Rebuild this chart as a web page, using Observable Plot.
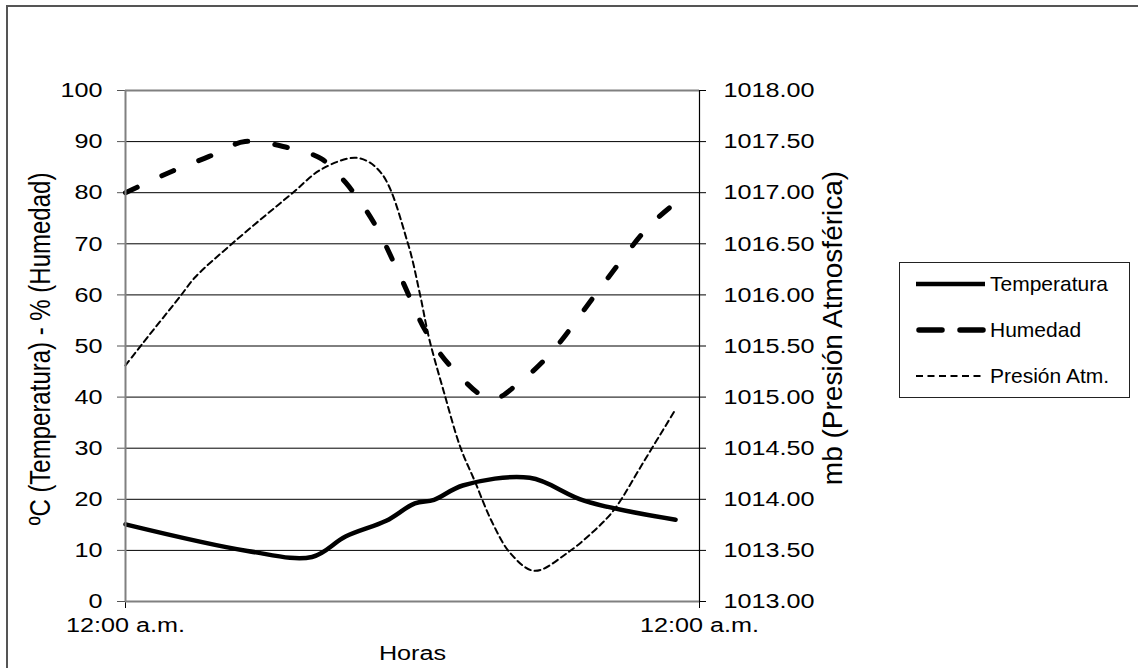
<!DOCTYPE html>
<html>
<head>
<meta charset="utf-8">
<script src="https://cdn.jsdelivr.net/npm/d3@7"></script>
<script src="https://cdn.jsdelivr.net/npm/@observablehq/plot@0.6"></script>
<style>
html, body { margin: 0; padding: 0; background: #fff; }
#wrap { position: relative; width: 1138px; height: 668px; overflow: hidden; font-family: "Liberation Sans", Arial, sans-serif; }
#chart { position: absolute; left: 0; top: 0; }
#frame { position: absolute; left: 6px; top: 5px; width: 1200px; height: 1000px; border-left: 2px solid #555; border-top: 2px solid #555; pointer-events: none; }
#legend { position: absolute; left: 899px; top: 262px; width: 229px; height: 134px; border: 1px solid #222; background: #fff; }
</style>
</head>
<body>
<div id="wrap"><div id="chart"></div><div id="frame"></div><div id="legend"></div></div>
<script>
// ---- data (x = hours since midnight) ----
const horasTemp = [0, 5.1, 7.8, 9.2, 10.9, 12.1, 12.9, 14.1, 16.9, 19.2, 23];
const temperatura = [15.1, 9.9, 8.7, 12.7, 15.8, 19.2, 19.9, 22.7, 24.2, 19.7, 16.0];

const horasHum = [0, 2, 3.5, 5.0, 6.8, 8.2, 9.2, 10.4, 11.5, 12.6, 13.7, 15.3, 16.5, 17.8, 19.8, 21.9, 23];
const humedad = [80, 84.3, 87.1, 90, 88.8, 86.6, 82, 74, 63.5, 52.5, 45.5, 39.6, 43, 48.7, 61, 73.5, 78];

const horasPres = [0, 0.7, 2.3, 2.9, 4.5, 7.0, 8.2, 9.7, 10.7, 11.8, 12.3, 12.7, 13.3, 14.0, 14.6, 15.3, 16.1, 17.1, 18.5, 19.9, 20.5, 21.7, 23];
const presion = [1015.31, 1015.52, 1015.99, 1016.17, 1016.51, 1017.00, 1017.23, 1017.34, 1017.19, 1016.51, 1016.02, 1015.57, 1015.06, 1014.51, 1014.18, 1013.79, 1013.47, 1013.30, 1013.48, 1013.76, 1013.92, 1014.38, 1014.88];

const leftTicks = [0, 10, 20, 30, 40, 50, 60, 70, 80, 90, 100];
const pressureTicks = [1013.0, 1013.5, 1014.0, 1014.5, 1015.0, 1015.5, 1016.0, 1016.5, 1017.0, 1017.5, 1018.0];
const xTicks = [0, 24];
const xTickLabels = ["12:00 a.m.", "12:00 a.m."];

const seriesNames = ["Temperatura", "Humedad", "Presión Atm."];
const yLeftTitle = "ºC (Temperatura) - % (Humedad)";
const yRightTitle = "mb (Presión Atmosférica)";
const xTitle = "Horas";

// pressure (1013–1018 mb) shares the 0–100 frame
const presMin = 1013, presMax = 1018;
const toLeft = p => (p - presMin) / (presMax - presMin) * 100;

const tempRows = horasTemp.map((h, i) => ({h, v: temperatura[i]}));
const humRows = horasHum.map((h, i) => ({h, v: humedad[i]}));
const presRows = horasPres.map((h, i) => ({h, p: presion[i]}));

const chart = Plot.plot({
  width: 1138,
  height: 668,
  marginLeft: 125,
  marginRight: 439,
  marginTop: 90,
  marginBottom: 67,
  style: {fontFamily: "'Liberation Sans', Arial, sans-serif", fontSize: "21px", color: "#000", background: "transparent"},
  x: {domain: [0, 24], label: null},
  y: {domain: [0, 100], label: null},
  marks: [
    Plot.gridY(leftTicks.slice(1, -1), {stroke: "#000", strokeOpacity: 1, strokeWidth: 1}),
    Plot.ruleY([leftTicks[leftTicks.length - 1]], {stroke: "#808080", strokeWidth: 2}),
    Plot.ruleX([xTicks[1]], {stroke: "#000", strokeWidth: 1.2}),
    Plot.axisY(leftTicks, {anchor: "left", tickSize: 8, tickPadding: 15, stroke: "#555", label: null}),
    Plot.axisY(pressureTicks.map(toLeft), {anchor: "right", tickSize: 6, tickPadding: 18, stroke: "#000", label: null,
      tickFormat: d => (presMin + d / 100 * (presMax - presMin)).toFixed(2)}),
    Plot.axisX(xTicks, {anchor: "bottom", tickSize: 7, tickPadding: 9, stroke: "#000", label: null,
      tickFormat: d => xTickLabels[xTicks.indexOf(d)]}),
    Plot.line(presRows, {x: "h", y: d => toLeft(d.p), curve: "catmull-rom", stroke: "#000", strokeWidth: 2, strokeDasharray: "6,4"}),
    Plot.line(humRows, {x: "h", y: "v", curve: "catmull-rom", stroke: "#000", strokeWidth: 5, strokeDasharray: "13,27", strokeLinecap: "round"}),
    Plot.line(tempRows, {x: "h", y: "v", curve: "catmull-rom", stroke: "#000", strokeWidth: 4.5, strokeLinecap: "round"}),
    Plot.ruleX([xTicks[0]], {stroke: "#808080", strokeWidth: 2}),
    Plot.ruleY([leftTicks[0]], {stroke: "#808080", strokeWidth: 2}),
    Plot.text([yLeftTitle], {text: d => d, frameAnchor: "left", textAnchor: "middle", lineAnchor: "middle", rotate: -90, dx: -85, dy: 3, fontSize: 24, className: "stretch"}),
    Plot.text([yRightTitle], {text: d => d, frameAnchor: "right", textAnchor: "middle", lineAnchor: "middle", rotate: -90, dx: 134, dy: -18, fontSize: 28}),
    Plot.text([xTitle], {text: d => d, frameAnchor: "bottom", textAnchor: "middle", lineAnchor: "middle", dy: 52, fontSize: 21, className: "stretch"})
  ]
});
document.getElementById("chart").appendChild(chart);

// the reference's lettering is horizontally widened
const svg = d3.select(chart.tagName.toLowerCase() === "svg" ? chart : chart.querySelector("svg"));
const SX = 1.2;
svg.selectAll('g[aria-label$="tick label"] text').each(function () {
  const t = this.getAttribute("transform") || "";
  this.setAttribute("transform", t + ` scale(${SX},1)`);
});
svg.selectAll('g.stretch text').each(function () {
  const t = this.getAttribute("transform") || "";
  if (/rotate\(/.test(t)) this.setAttribute("transform", t.replace(/rotate\(/, `scale(${SX},1) rotate(`));
  else this.setAttribute("transform", t + ` scale(${SX},1)`);
});

// ---- legend ----
const lg = d3.select("#legend").append("svg").attr("width", 229).attr("height", 134)
  .style("font-family", "'Liberation Sans', Arial, sans-serif");
const styles = [
  {w: 4.5, dash: null, cap: "butt"},
  {w: 5.5, dash: "23,18", cap: "round"},
  {w: 2, dash: "7,4.5", cap: "butt"}
];
seriesNames.forEach((name, i) => {
  const y = 21 + i * 46;
  const s = styles[i];
  const ln = lg.append("line").attr("x1", s.cap === "round" ? 19 : 16).attr("x2", 85).attr("y1", y).attr("y2", y)
    .attr("stroke", "#000").attr("stroke-width", s.w).attr("stroke-linecap", s.cap);
  if (s.dash) ln.attr("stroke-dasharray", s.dash);
  lg.append("text").attr("x", 90).attr("y", y).attr("dy", "0.35em").attr("font-size", 21).attr("fill", "#000").text(name);
});
</script>
</body>
</html>
